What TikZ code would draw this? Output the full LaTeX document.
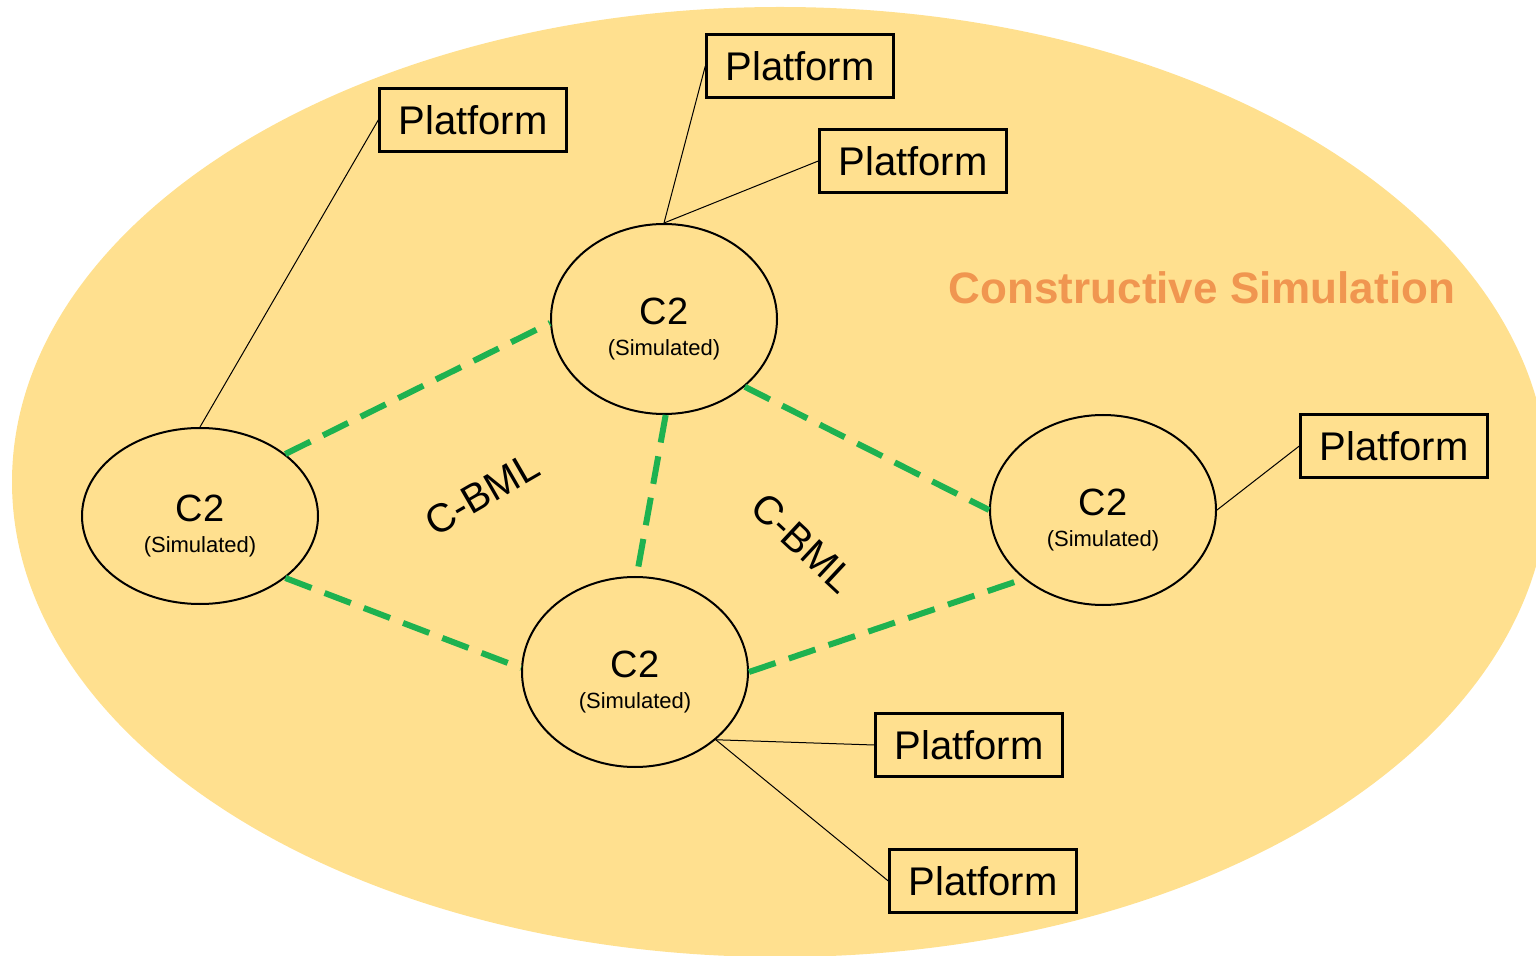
\documentclass[tikz,border=0pt]{standalone}
\usepackage{fontspec}
\setmainfont{Liberation Sans}
\usepackage{tikz}
\usetikzlibrary{shapes.geometric}
\definecolor{simyellow}{RGB}{255,224,143}
\definecolor{simorange}{RGB}{240,150,80}
\definecolor{bmlgreen}{RGB}{30,178,80}
\newcommand{\ctwolabel}{{\fontsize{19}{22}\selectfont\rule{0pt}{23pt}C2}\\[3.5pt]{\fontsize{11}{13}\selectfont (Simulated)}}
\tikzset{
  platform/.style={draw, line width=1.2pt, minimum width=93.5pt, minimum height=31.5pt,
    inner sep=0pt, font=\fontsize{20}{24}\selectfont},
  ctwo/.style={ellipse, draw, line width=1pt, minimum width=113pt, minimum height=95pt,
    inner sep=0pt, align=center},
  link/.style={line width=0.5pt},
  cbml/.style={draw=bmlgreen, line width=3pt, dash pattern=on 14pt off 7pt},
  bmltext/.style={font=\fontsize{20}{24}\selectfont}
}

\begin{document}
\begin{tikzpicture}[x=0.5pt,y=-0.5pt]
\useasboundingbox (0,0) rectangle (1536,956);
% simulation area
\fill[simyellow] (780,482) ellipse [x radius=384pt, y radius=237.5pt];
\node[text=simorange, font=\bfseries\fontsize{22}{26}\selectfont] (title) at (1202,288) {Constructive Simulation};

% C2 nodes
\node[ctwo] (tc) at (664,319) {\ctwolabel};
\node[ctwo, minimum width=118pt, minimum height=88pt] (lc) at (200,516) {\ctwolabel};
\node[ctwo] (rc) at (1103,510) {\ctwolabel};
\node[ctwo] (bc) at (635,672) {\ctwolabel};

% platforms
\node[platform] (pa) at (473,120) {Platform};
\node[platform] (pb) at (800,66) {Platform};
\node[platform] (pc) at (913,161) {Platform};
\node[platform] (pd) at (1394,446) {Platform};
\node[platform] (pe) at (969,745) {Platform};
\node[platform] (pf) at (983,881) {Platform};

\draw[link] (pa.west) -- (lc.north);
\draw[link] (pb.west) -- (tc.north);
\draw[link] (pc.west) -- (tc.north);
\draw[link] (pd.west) -- (rc.east);
\draw[link] (pe.west) -- (bc.-40);
\draw[link] (pf.west) -- (bc.-40);

% C-BML links
\draw[cbml] (lc.36) -- (tc.182);
\draw[cbml] (lc.-36) -- (bc.178);
\draw[cbml] (tc.-89) -- (bc.89);
\draw[cbml] (tc.-40) -- (rc.180);
\draw[cbml] (bc.0) -- (rc.221);
\node[bmltext, rotate=30] (bmla) at (482,494) {C-BML};
\node[bmltext, rotate=-43] (bmlb) at (803,543) {C-BML};
\end{tikzpicture}
\end{document}
